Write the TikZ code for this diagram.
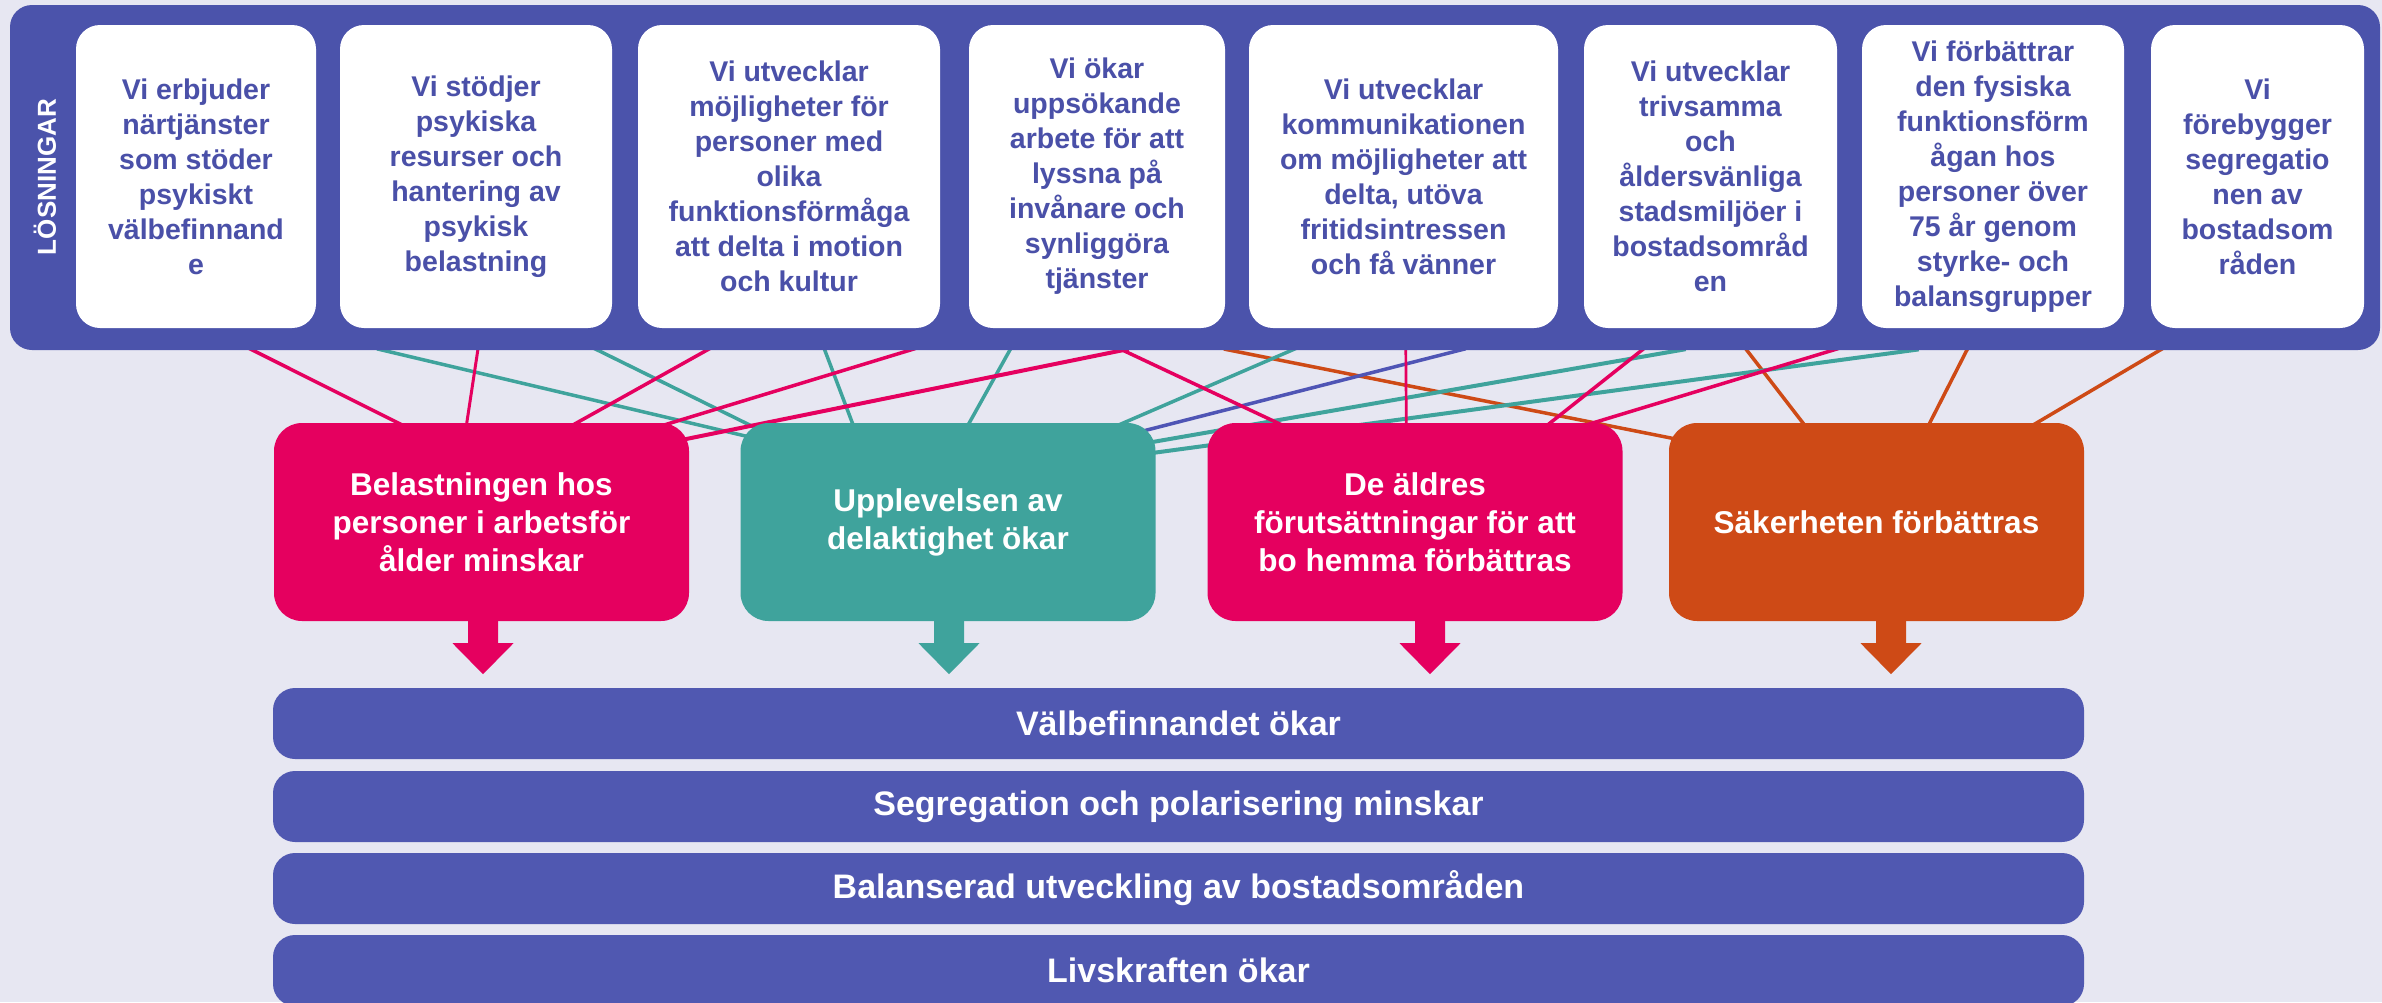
\documentclass[tikz,border=0pt]{standalone}
\usepackage{fontspec}
\setmainfont{Liberation Sans}
\usetikzlibrary{calc}
\definecolor{bgc}{HTML}{E7E7F2}
\definecolor{panelc}{HTML}{4B53AB}
\definecolor{barc}{HTML}{5058B1}
\definecolor{topc}{HTML}{4A50A8}
\definecolor{magc}{HTML}{E5005F}
\definecolor{tealc}{HTML}{3FA39C}
\definecolor{orc}{HTML}{CE4A16}
\definecolor{bluec}{HTML}{4F55B5}
\pgfdeclarelayer{back}
\pgfdeclarelayer{lines}
\pgfsetlayers{back,lines,main}
\tikzset{
  panelbox/.style={fill=panelc, rounded corners=22pt, inner sep=0pt},
  tbox/.style={fill=white, rounded corners=24pt, minimum height=303pt, inner sep=0pt,
    align=center, text=topc, font=\bfseries\fontsize{28.5}{35}\selectfont},
  mbox/.style={rounded corners=28pt, minimum width=415pt, minimum height=198pt, inner sep=0pt,
    align=center, text=white, font=\bfseries\fontsize{31.5}{38}\selectfont},
  barbox/.style={fill=barc, rounded corners=22pt, minimum width=1811pt, minimum height=71pt,
    inner sep=0pt, text=white, font=\bfseries\fontsize{34}{40}\selectfont},
  conn/.style={line width=3.5pt, shorten <=-6pt, shorten >=-6pt},
  pics/downarr/.style={code={
    \fill[#1] (-15,-4) -- (15,-4) -- (15,22) -- (30.5,22) -- (0,53) -- (-30.5,22) -- (-15,22) -- cycle;}}
}
\begin{document}
\begin{tikzpicture}[x=1pt,y=-1pt]
\clip (0,0) rectangle (2382,1002);
\begin{pgfonlayer}{back}
\fill[bgc] (0,0) rectangle (2382,1002);
\end{pgfonlayer}

% top panel
\node[panelbox, minimum width=2370pt, minimum height=345pt] (panel) at (1195,177.5) {};
\node[rotate=90, text=white, font=\bfseries\fontsize{26}{26}\selectfont] (lbl) at (45,177) {LÖSNINGAR};

\node[tbox, minimum width=240pt] (t1) at (196,176.5) {Vi erbjuder\\närtjänster\\som stöder\\psykiskt\\välbefinnand\\e};
\node[tbox, minimum width=272pt] (t2) at (476,176.5) {Vi stödjer\\psykiska\\resurser och\\hantering av\\psykisk\\belastning};
\node[tbox, minimum width=302pt] (t3) at (789,176.5) {Vi utvecklar\\möjligheter för\\personer med\\olika\\funktionsförmåga\\att delta i motion\\och kultur};
\node[tbox, minimum width=256pt] (t4) at (1097,176.5) {Vi ökar\\uppsökande\\arbete för att\\lyssna på\\invånare och\\synliggöra\\tjänster};
\node[tbox, minimum width=309pt] (t5) at (1403.5,176.5) {Vi utvecklar\\kommunikationen\\om möjligheter att\\delta, utöva\\fritidsintressen\\och få vänner};
\node[tbox, minimum width=253pt] (t6) at (1710.5,176.5) {Vi utvecklar\\trivsamma\\och\\åldersvänliga\\stadsmiljöer i\\bostadsområd\\en};
\node[tbox, minimum width=262pt] (t7) at (1993,176.5) {Vi förbättrar\\den fysiska\\funktionsförm\\ågan hos\\personer över\\75 år genom\\styrke- och\\balansgrupper};
\node[tbox, minimum width=213pt] (t8) at (2257.5,176.5) {Vi\\förebygger\\segregatio\\nen av\\bostadsom\\råden};

% middle boxes
\node[mbox, fill=magc] (A) at (481.5,522) {Belastningen hos\\personer i arbetsför\\ålder minskar};
\node[mbox, fill=tealc] (B) at (948,522) {Upplevelsen av\\delaktighet ökar};
\node[mbox, fill=magc] (C) at (1415,522) {De äldres\\förutsättningar för att\\bo hemma förbättras};
\node[mbox, fill=orc] (D) at (1876.5,522) {Säkerheten förbättras};

% arrows
\pic at ($(A.south)+(1.5,0)$) {downarr=magc};
\pic at ($(B.south)+(1,0)$) {downarr=tealc};
\pic at ($(C.south)+(15,0)$) {downarr=magc};
\pic at ($(D.south)+(14.5,0)$) {downarr=orc};

% bars
\node[barbox] (w1) at (1178.5,723.5) {Välbefinnandet ökar};
\node[barbox] (w2) at (1178.5,806.5) {Segregation och polarisering minskar};
\node[barbox] (w3) at (1178.5,888.5) {Balanserad utveckling av bostadsområden};
\node[barbox] (w4) at (1178.5,970.5) {Livskraften ökar};

% connectors
\begin{pgfonlayer}{lines}
\draw[conn,orc] ($(panel.south west)+(1220,0)$) -- ($(D.north west)+(1,15)$);
\draw[conn,orc] ($(panel.south west)+(1737,0)$) -- ($(D.north west)+(134,0)$);
\draw[conn,orc] ($(panel.south west)+(1957,0)$) -- ($(D.north west)+(261,0)$);
\draw[conn,orc] ($(panel.south west)+(2150,0)$) -- ($(D.north west)+(368,0)$);

\draw[conn,tealc] ($(panel.south west)+(373,0)$) -- ($(B.north west)+(0,12)$);
\draw[conn,tealc] ($(panel.south west)+(588,0)$) -- ($(B.north west)+(9,2)$);
\draw[conn,tealc] ($(panel.south west)+(815,0)$) -- ($(B.north west)+(112,0)$);
\draw[conn,tealc] ($(panel.south west)+(1000,0)$) -- ($(B.north west)+(229,0)$);
\draw[conn,tealc] ($(panel.south west)+(1282,0)$) -- ($(B.north east)+(-32,0)$);
\draw[conn,tealc,line width=4pt] ($(panel.south west)+(1670,0)$) -- ($(B.north east)+(-2,19)$);
\draw[conn,tealc,line width=4pt] ($(panel.south west)+(1903,0)$) -- ($(B.north east)+(-2,30)$);
\draw[conn,bluec] ($(panel.south west)+(1450,0)$) -- ($(B.north east)+(-8,7)$);

\draw[conn,magc] ($(panel.south west)+(243,0)$) -- ($(A.north west)+(124,0)$);
\draw[conn,magc,line width=3pt] ($(panel.south west)+(468,0)$) -- ($(A.north west)+(193,0)$);
\draw[conn,magc] ($(panel.south west)+(697,0)$) -- ($(A.north west)+(303,0)$);
\draw[conn,magc] ($(panel.south west)+(900,0)$) -- ($(A.north west)+(391,2)$);
\draw[conn,magc,line width=4pt] ($(panel.south west)+(1113,0)$) -- ($(A.north east)+(-2,16)$);
\draw[conn,magc] ($(panel.south west)+(1113,0)$) -- ($(C.north west)+(70,0)$);
\draw[conn,magc,line width=2.7pt] ($(panel.south west)+(1396,0)$) -- ($(C.north west)+(199,0)$);
\draw[conn,magc] ($(panel.south west)+(1632,0)$) -- ($(C.north west)+(343,0)$);
\draw[conn,magc] ($(panel.south west)+(1823,0)$) -- ($(C.north west)+(386,0)$);
\end{pgfonlayer}
\end{tikzpicture}
\end{document}
